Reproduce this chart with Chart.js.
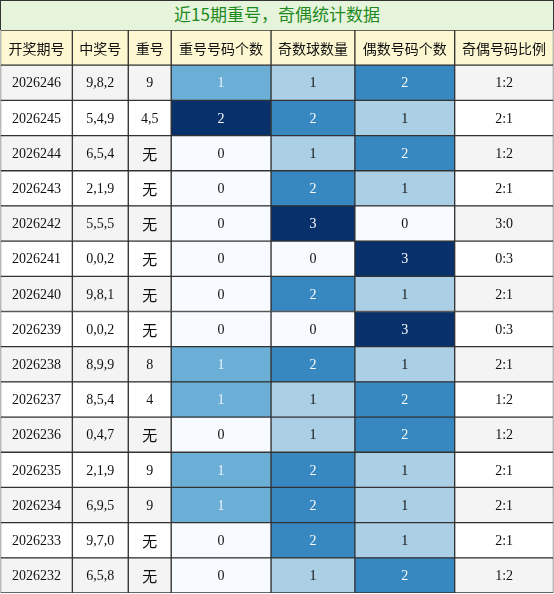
<!DOCTYPE html>
<html><head><meta charset="utf-8">
<script src="https://cdn.jsdelivr.net/npm/chart.js@4"></script>
<style>
body{margin:0;background:#fff;}
#t{box-sizing:border-box;width:554px;height:30px;line-height:29px;text-align:center;background:#e6f4dc;color:#1e8a1e;font:17px "Noto Sans CJK SC";border:1px solid #333;border-bottom:none;}
#w{width:554px;height:564px;}
</style></head><body>
<div id="t">近15期重号，奇偶统计数据</div>
<div id="w"><canvas id="c"></canvas></div>
<script>
const headers=["开奖期号","中奖号","重号","重号号码个数","奇数球数量","偶数号码个数","奇偶号码比例"];
const periods=["2026246","2026245","2026244","2026243","2026242","2026241","2026240","2026239","2026238","2026237","2026236","2026235","2026234","2026233","2026232"];
const nums=["9,8,2","5,4,9","6,5,4","2,1,9","5,5,5","0,0,2","9,8,1","0,0,2","8,9,9","8,5,4","0,4,7","2,1,9","6,9,5","9,7,0","6,5,8"];
const repeats=["9","4,5","无","无","无","无","无","无","8","4","无","9","9","无","无"];
const repCount=[1,2,0,0,0,0,0,0,1,1,0,1,1,0,0];
const oddCount=[1,2,1,2,3,0,2,0,2,1,1,2,2,2,1];
const evenCount=[2,1,2,1,0,3,1,3,1,2,2,1,1,1,2];
const ratios=oddCount.map((o,i)=>o+":"+evenCount[i]);
const edges=[0,72,128,171,271,355,455,554];
const repColors=["#f7fbff","#6baed6","#08306b"];
const oeColors=["#f7fbff","#abd0e6","#3787c0","#08306b"];
const rows=["h"].concat(periods);
const textCols=[periods,nums,repeats,repCount,oddCount,evenCount,ratios];
const fills=[null,null,null,repColors,oeColors,oeColors,null];
const datasets=headers.map((h,c)=>({
  data:rows.map(()=>[edges[c],edges[c+1]]),
  backgroundColor:rows.map((r,i)=>i===0?"#fdf8d2":(!fills[c]?(i%2===1?"#f4f4f4":"#ffffff"):fills[c][textCols[c][i-1]])),
  borderColor:"#333333",borderWidth:1,borderSkipped:false,grouped:false,
  barPercentage:1,categoryPercentage:1
}));
const txt={id:"txt",afterDatasetsDraw(ch){
  const g=ch.ctx,xs=ch.scales.x,ys=ch.scales.y;
  g.save();g.textAlign="center";g.textBaseline="middle";
  headers.forEach((h,c)=>{
    const x=xs.getPixelForValue((edges[c]+edges[c+1])/2);
    rows.forEach((r,i)=>{
      const y=ys.getPixelForValue(i);
      let s,col="#111";
      if(i===0){s=h;g.font='14px "Noto Sans CJK SC"';}
      else{s=String(textCols[c][i-1]);
        g.font=s==="无"?'15px "Noto Sans CJK SC"':'14px "Liberation Serif"';
        if(fills[c]){const v=textCols[c][i-1];if(v>0&&(c===3||v>=2))col=(c===3&&v===1)?"#e8f2fa":"#ffffff";}
      }
      g.fillStyle=col;g.fillText(s,x,y+1);
    });
  });
  g.restore();
}};
new Chart(document.getElementById("c"),{type:"bar",
  data:{labels:rows,datasets},
  options:{indexAxis:"y",responsive:true,maintainAspectRatio:false,animation:false,
    layout:{padding:{left:0.5,right:0.5,top:0,bottom:1}},
    plugins:{legend:{display:false},tooltip:{enabled:false}},
    scales:{x:{type:"linear",min:0,max:554,display:false},y:{display:false}}},
  plugins:[txt]});
</script></body></html>
